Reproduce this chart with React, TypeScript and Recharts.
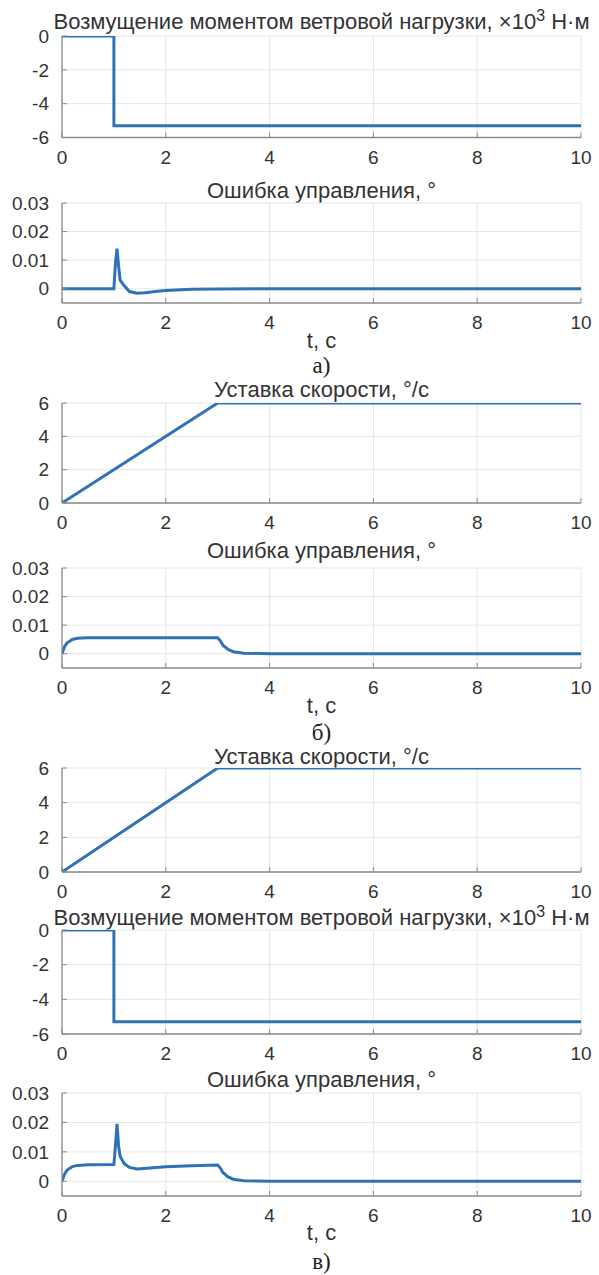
import React from 'react';
import { LineChart, Line, XAxis, YAxis, CartesianGrid } from 'recharts';

// ---- data ----
const xTicks = [0, 2, 4, 6, 8, 10];

const distTicks = [-6, -4, -2, 0];
const distT = [0, 1, 1, 10];
const distV = [0, 0, -5.3, -5.3];

const errTicks = [0, 0.01, 0.02, 0.03];
const errAT = [0, 1.0, 1.03, 1.06, 1.09, 1.12, 1.2, 1.3, 1.45, 1.6, 1.8, 2.0, 2.5, 3.0, 4.0, 10];
const errAV = [0, 0, 0.009, 0.014, 0.008, 0.003, 0.001, -0.001, -0.0016, -0.0014, -0.001, -0.0006, -0.0002, -0.0001, 0, 0];

const spTicks = [0, 2, 4, 6];
const spT = [0, 3, 10];
const spV = [0, 6, 6];

const errBT = [0, 0.05, 0.1, 0.2, 0.3, 0.5, 3.0, 3.05, 3.1, 3.2, 3.3, 3.5, 4.0, 10];
const errBV = [0, 0.0025, 0.0038, 0.005, 0.0054, 0.0056, 0.0056, 0.0045, 0.003, 0.0015, 0.0007, 0.0002, 0, 0];

const errCT = [0, 0.05, 0.1, 0.2, 0.3, 0.5, 1.0, 1.03, 1.06, 1.09, 1.12, 1.2, 1.3, 1.45, 1.7, 2.0, 2.5, 3.0, 3.05, 3.1, 3.2, 3.3, 3.5, 4.0, 10];
const errCV = [0, 0.0025, 0.0038, 0.005, 0.0054, 0.0056, 0.0057, 0.012, 0.0195, 0.012, 0.0085, 0.006, 0.0047, 0.0042, 0.0045, 0.0049, 0.0053, 0.0055, 0.0045, 0.003, 0.0015, 0.0007, 0.0002, 0, 0];

const titleDistMain = 'Возмущение моментом ветровой нагрузки, ×10';
const titleDistSup = '3';
const titleDistUnit = ' Н·м';
const titleErr = 'Ошибка управления, °';
const titleSp = 'Уставка скорости, °/с';
const xLabel = 't, с';

const zip = (t: number[], v: number[]) => t.map((x, i) => ({ t: x, v: v[i] }));

const LINE = '#2f72b5';
const AXIS = '#8a8a8a';
const GRID = '#e6e6e6';
const TEXT = '#333333';
const SANS = '"Liberation Sans", Arial, sans-serif';
const SERIF = '"Liberation Serif", "DejaVu Serif", serif';
const TICK_FS = 19;
const TITLE_FS = 22;
const TS = -5; // inward tick marks

type PlotProps = {
  top: number;
  bottom: number;
  data: { t: number; v: number }[];
  domain: [number, number];
  yTicks: number[];
  fmt?: (v: number) => string;
};

function Plot({ top, bottom, data, domain, yTicks, fmt }: PlotProps) {
  const plotH = bottom - top;
  const mTop = 12;
  const xH = 30;
  const h = plotH + mTop + xH + 2;
  const ax = { stroke: AXIS, strokeWidth: 1.3 };
  const tl = { stroke: AXIS, strokeWidth: 1 };
  return (
    <div style={{ position: 'absolute', left: 0, top: top - mTop, width: 599, height: h }}>
      <LineChart width={599} height={h} data={data} margin={{ top: mTop, right: 18, bottom: 2, left: 0 }}>
        <CartesianGrid stroke={GRID} strokeWidth={1} horizontalValues={yTicks} verticalValues={xTicks} />
        <XAxis
          type="number"
          dataKey="t"
          domain={[0, 10]}
          ticks={xTicks}
          height={xH}
          axisLine={ax}
          tickLine={tl}
          tickSize={TS}
          tickMargin={8 - 2 * TS}
          tick={{ fill: TEXT, fontSize: TICK_FS, fontFamily: SANS }}
          interval={0}
          allowDataOverflow
        />
        <XAxis
          xAxisId="top"
          orientation="top"
          type="number"
          domain={[0, 10]}
          ticks={xTicks}
          height={0}
          axisLine={ax}
          tick={false}
          tickLine={tl}
          tickSize={TS}
          allowDataOverflow
        />
        <YAxis
          type="number"
          domain={domain}
          ticks={yTicks}
          width={62}
          axisLine={ax}
          tickLine={tl}
          tickSize={TS}
          tickMargin={8 - 2 * TS}
          tick={{ fill: TEXT, fontSize: TICK_FS, fontFamily: SANS }}
          tickFormatter={fmt}
          interval={0}
          allowDataOverflow
        />
        <YAxis
          yAxisId="right"
          orientation="right"
          type="number"
          domain={domain}
          ticks={yTicks}
          width={0}
          axisLine={ax}
          tick={false}
          tickLine={tl}
          tickSize={TS}
          allowDataOverflow
        />
        <Line
          type="linear"
          dataKey="v"
          stroke={LINE}
          strokeWidth={3}
          dot={false}
          isAnimationActive={false}
        />
      </LineChart>
    </div>
  );
}

const Title = ({ y, children, size = TITLE_FS }: { y: number; children: React.ReactNode; size?: number }) => (
  <div
    style={{
      position: 'absolute',
      left: 62,
      width: 519,
      top: y - size * 0.5,
      textAlign: 'center',
      fontSize: size,
      fontFamily: SANS,
      color: TEXT,
      lineHeight: `${size}px`,
      height: size,
      whiteSpace: 'nowrap',
      display: 'flex',
      justifyContent: 'center',
    }}
  >
    <span>{children}</span>
  </div>
);

const DistTitle = ({ y }: { y: number }) => (
  <Title y={y}>
    {titleDistMain}
    <sup style={{ fontSize: 16, lineHeight: 0, verticalAlign: 'super' }}>{titleDistSup}</sup>
    {titleDistUnit}
  </Title>
);

const PanelLabel = ({ y, text }: { y: number; text: string }) => (
  <Title y={y} size={20}>
    <span style={{ fontFamily: SERIF, fontSize: 23, color: '#222' }}>{text}</span>
  </Title>
);

const errFmt = (v: number) => (v === 0 ? '0' : v.toFixed(2));

export default function App() {
  return (
    <div style={{ position: 'absolute', left: 0, top: 0, width: 599, height: 1275, background: '#fff', overflow: 'hidden' }}>
      <DistTitle y={22} />
      <Plot top={36} bottom={137.5} data={zip(distT, distV)} domain={[-6, 0]} yTicks={distTicks} />

      <Title y={191}>{titleErr}</Title>
      <Plot top={203} bottom={303} data={zip(errAT, errAV)} domain={[-0.005, 0.03]} yTicks={errTicks} fmt={errFmt} />
      <Title y={341}>{xLabel}</Title>
      <PanelLabel y={366} text="а)" />

      <Title y={390}>{titleSp}</Title>
      <Plot top={403} bottom={503} data={zip(spT, spV)} domain={[0, 6]} yTicks={spTicks} />

      <Title y={551}>{titleErr}</Title>
      <Plot top={568} bottom={668} data={zip(errBT, errBV)} domain={[-0.005, 0.03]} yTicks={errTicks} fmt={errFmt} />
      <Title y={706}>{xLabel}</Title>
      <PanelLabel y={733} text="б)" />

      <Title y={757}>{titleSp}</Title>
      <Plot top={768} bottom={872} data={zip(spT, spV)} domain={[0, 6]} yTicks={spTicks} />

      <DistTitle y={918} />
      <Plot top={930} bottom={1034} data={zip(distT, distV)} domain={[-6, 0]} yTicks={distTicks} />

      <Title y={1080}>{titleErr}</Title>
      <Plot top={1093} bottom={1196} data={zip(errCT, errCV)} domain={[-0.005, 0.03]} yTicks={errTicks} fmt={errFmt} />
      <Title y={1233}>{xLabel}</Title>
      <PanelLabel y={1262} text="в)" />
    </div>
  );
}
